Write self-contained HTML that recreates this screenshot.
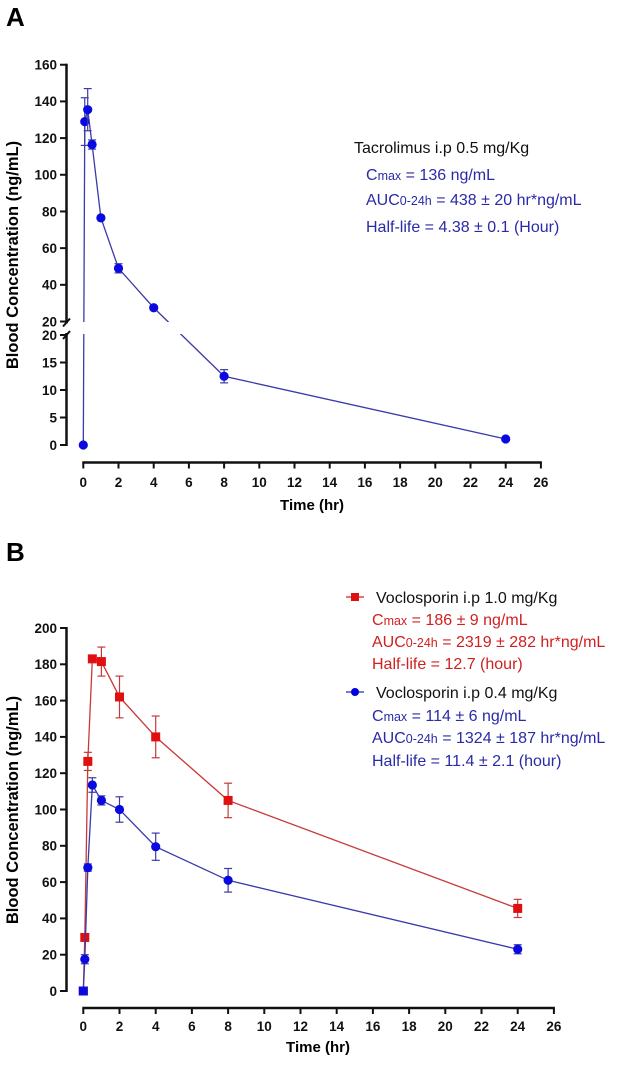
<!DOCTYPE html>
<html><head><meta charset="utf-8"><style>
body{margin:0;background:#fff;width:630px;height:1067px;overflow:hidden}
svg{display:block;font-family:"Liberation Sans",Arial,sans-serif}
.tk{font-size:13.5px;font-weight:bold;fill:#111}
.ann{font-size:16px}
</style></head><body>
<svg id="chart" width="630" height="1067" viewBox="0 0 630 1067">
<text x="6" y="26" font-size="26" font-weight="bold">A</text>
<text x="6" y="561" font-size="26" font-weight="bold">B</text>
<text transform="translate(18,255) rotate(-90)" text-anchor="middle" font-size="16.5" font-weight="bold">Blood Concentration (ng/mL)</text>
<text transform="translate(18,810) rotate(-90)" text-anchor="middle" font-size="16.5" font-weight="bold">Blood Concentration (ng/mL)</text>
<text x="312" y="510" text-anchor="middle" font-size="15" font-weight="bold">Time (hr)</text>
<text x="318" y="1052" text-anchor="middle" font-size="15" font-weight="bold">Time (hr)</text>
<g class="ann">
<text x="354" y="153" fill="#111">Tacrolimus i.p  0.5 mg/Kg</text>
<text x="366" y="180" fill="#2a2aa8">C<tspan font-size="12.5">max</tspan> = 136 ng/mL</text>
<text x="366" y="205" fill="#2a2aa8">AUC<tspan font-size="12.5">0-24h</tspan> = 438 ± 20 hr*ng/mL</text>
<text x="366" y="232" fill="#2a2aa8">Half-life = 4.38 ± 0.1 (Hour)</text>
</g>
<g class="ann">
<line x1="346" y1="597" x2="364" y2="597" stroke="#d02020" stroke-width="1.3"/><rect x="351" y="593" width="8" height="8" fill="#e01010"/>
<text x="376" y="603" fill="#111">Voclosporin i.p 1.0 mg/Kg</text>
<text x="372" y="625" fill="#d02020">C<tspan font-size="12.5">max</tspan> = 186 ± 9 ng/mL</text>
<text x="372" y="647" fill="#d02020">AUC<tspan font-size="12.5">0-24h</tspan> = 2319 ± 282 hr*ng/mL</text>
<text x="372" y="669" fill="#d02020">Half-life = 12.7 (hour)</text>
<line x1="346" y1="692" x2="364" y2="692" stroke="#2a2aa8" stroke-width="1.3"/><circle cx="355" cy="692" r="4" fill="#0000e0"/>
<text x="376" y="698" fill="#111">Voclosporin i.p 0.4 mg/Kg</text>
<text x="372" y="721" fill="#2a2aa8">C<tspan font-size="12.5">max</tspan> = 114 ± 6 ng/mL</text>
<text x="372" y="743" fill="#2a2aa8">AUC<tspan font-size="12.5">0-24h</tspan> = 1324 ± 187 hr*ng/mL</text>
<text x="372" y="766" fill="#2a2aa8">Half-life = 11.4 ± 2.1 (hour)</text>
</g>
</svg>
<script>
const timeA=[0,0.083,0.25,0.5,1,2,4,8,24];
const concA=[0,129,135.5,116.5,76.5,49,27.5,12.5,1.1];
const errA=[0,13,11.5,2.5,1,2.5,1,1.2,0.4];
const xTicks=[0,2,4,6,8,10,12,14,16,18,20,22,24,26];
const yTicksAUpper=[20,40,60,80,100,120,140,160];
const yTicksALower=[0,5,10,15,20];
const timeB=[0,0.083,0.25,0.5,1,2,4,8,24];
const concRed=[0,29.5,126.5,183,181.5,162,140,105,45.5];
const errRed=[0,1,5,2,8,11.5,11.5,9.5,5];
const concBlue=[0,17.5,68,113.5,105,100,79.5,61,23];
const errBlue=[0,2.5,2,4,2.5,7,7.5,6.5,2.5];
const yTicksB=[0,20,40,60,80,100,120,140,160,180,200];

const svg=document.getElementById('chart');
const NS='http://www.w3.org/2000/svg';
function mk(tag,attrs,parent){const e=document.createElementNS(NS,tag);for(const k in attrs)e.setAttribute(k,attrs[k]);(parent||svg).appendChild(e);return e;}

const xA=t=>83.3+t*17.6;
const yA=v=>v<20?445-v*5.5:321.5-(v-20)*1.834;
const yALow=v=>445-v*5.5;
const xB=t=>83.3+t*18.1;
const yB=v=>991-v*1.815;

function axesX(xf,yAxis,labelY,name){
  const g=mk('g',{});
  
  
  mk('line',{x1:xf(0)-1,y1:yAxis,x2:xf(26)+1,y2:yAxis,stroke:'#111','stroke-width':2.5},g);
  xTicks.forEach(t=>{
    mk('line',{x1:xf(t),y1:yAxis,x2:xf(t),y2:yAxis+6,stroke:'#111','stroke-width':2},g);
    const tx=mk('text',{x:xf(t),y:labelY,'text-anchor':'middle',class:'tk'},g);
    
    
    tx.textContent=t;
  });
}
function yTicks(ticks,yf,g){
  ticks.forEach(v=>{
    mk('line',{x1:60,y1:yf(v),x2:67,y2:yf(v),stroke:'#111','stroke-width':2},g);
    const tx=mk('text',{x:57,y:yf(v)+4.8,'text-anchor':'end',class:'tk'},g);
    
    
    tx.textContent=v;
  });
}
function series(xs,ys,es,xf,yf,lineCol,markCol,shape,name,firstSquare){
  const g=mk('g',{});
  
  
  mk('polyline',{points:xs.map((t,i)=>xf(t)+','+yf(ys[i])).join(' '),fill:'none',stroke:lineCol,'stroke-width':1.3},g);
  xs.forEach((t,i)=>{
    const x=xf(t),y=yf(ys[i]);
    if(es[i]>0.8){
      const y1=yf(ys[i]+es[i]),y2=yf(ys[i]-es[i]);
      mk('line',{x1:x,y1:y1,x2:x,y2:y2,stroke:lineCol,'stroke-width':1.2},g);
      mk('line',{x1:x-4,y1:y1,x2:x+4,y2:y1,stroke:lineCol,'stroke-width':1.2},g);
      mk('line',{x1:x-4,y1:y2,x2:x+4,y2:y2,stroke:lineCol,'stroke-width':1.2},g);
    }
    let m;
    if(shape==='sq'||(firstSquare&&i===0))m=mk('rect',{x:x-4.5,y:y-4.5,width:9,height:9,fill:markCol},g);
    else m=mk('circle',{cx:x,cy:y,r:4.6,fill:markCol},g);
    
    
  });
}

series(timeA,concA,errA,xA,yA,'#3a3aa8','#0a0ae0','c','series-tacrolimus',false);
mk('rect',{x:70,y:322,width:540,height:12,fill:'#fff'});
const gA=mk('g',{});


mk('line',{x1:66.5,y1:yA(160)-1,x2:66.5,y2:yA(20)+2,stroke:'#111','stroke-width':2.5},gA);
mk('line',{x1:66.5,y1:yALow(20)-2,x2:66.5,y2:yA(0)+1,stroke:'#111','stroke-width':2.5},gA);
mk('line',{x1:63,y1:yA(20)+5,x2:70,y2:yA(20)-3,stroke:'#111','stroke-width':2},gA);
mk('line',{x1:63,y1:yALow(20)+4,x2:70,y2:yALow(20)-4,stroke:'#111','stroke-width':2},gA);
yTicks(yTicksAUpper,yA,gA);
yTicks(yTicksALower,yALow,gA);
axesX(xA,462.5,487,'x-axis-a');

series(timeB,concRed,errRed,xB,yB,'#c83838','#e01010','sq','series-voclosporin-1mg',false);
series(timeB,concBlue,errBlue,xB,yB,'#3a3aa8','#0a0ae0','c','series-voclosporin-0-4mg',true);
const gB=mk('g',{});


mk('line',{x1:66.5,y1:yB(200)-1,x2:66.5,y2:yB(0)+1,stroke:'#111','stroke-width':2.5},gB);
yTicks(yTicksB,yB,gB);
axesX(xB,1008,1031,'x-axis-b');
</script>
</body></html>
